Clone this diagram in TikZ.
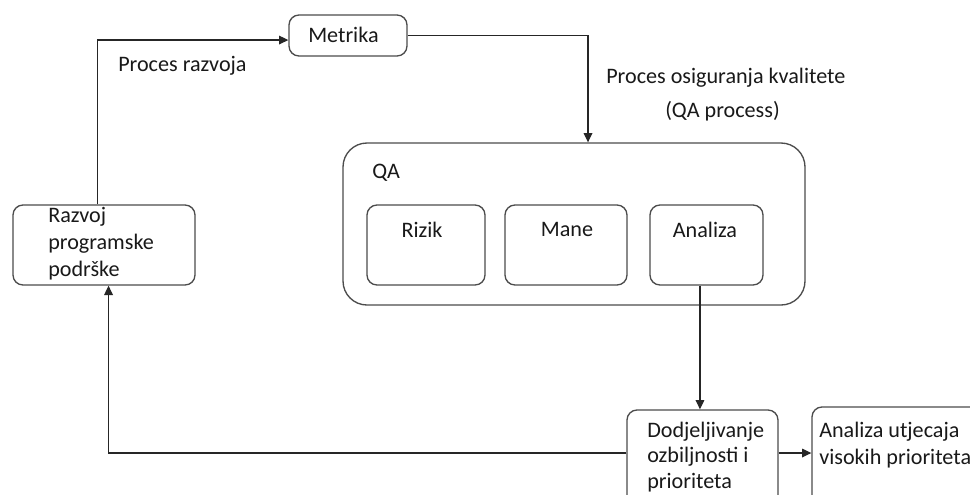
\documentclass[tikz,border=0pt]{standalone}
\usepackage{fontspec}
\setmainfont{Carlito}
\usetikzlibrary{fit,arrows.meta}
\begin{document}
\begin{tikzpicture}[x=0.75pt,y=-0.75pt,
  box/.style={draw=black!70, line width=1pt, rounded corners=7.5pt, inner sep=0pt},
  bigbox/.style={box, rounded corners=18pt},
  txt/.style={font=\fontsize{16.6}{19.5}\selectfont, inner sep=0pt, align=left, text=black!90},
  arr/.style={-{Triangle[length=7pt,width=6.5pt]}, line width=0.9pt, draw=black!85},
  ln/.style={line width=0.9pt, draw=black!85}]
\clip (0,0) rectangle (970,494);
\fill[white] (0,0) rectangle (970,494);

% boxes
\node[box, fit={(289,15) (407,56)}] (metrika) {};
\node[box, fit={(13,205) (195,285)}] (razvoj) {};
\node[bigbox, fit={(343,143) (805,305)}] (qa) {};
\node[box, fit={(367,205) (485,285)}] (rizik) {};
\node[box, fit={(505,205) (627,285)}] (mane) {};
\node[box, fit={(650,205) (763,285)}] (analiza) {};
\node[box, fit={(627,410) (778,510)}] (dodj) {};
\node[box, fit={(812,407) (990,510)}] (util) {};

% texts
\node[txt, anchor=base west] (tmetrika) at (308,42) {Metrika};
\node[txt, anchor=base west] (trazvoja) at (118,71) {Proces razvoja};
\node[txt, anchor=base west] (tosig) at (606,83) {Proces osiguranja kvalitete};
\node[txt, anchor=base west] (tqap) at (665,117) {(QA process)};
\node[txt, anchor=base west] (tqa) at (372,178) {QA};
\node[txt, anchor=base] (trizik) at (422,237) {Rizik};
\node[txt, anchor=base] (tmane) at (567,236) {Mane};
\node[txt, anchor=base] (tanaliza) at (705,237) {Analiza};
\node[txt, anchor=base west, font=\fontsize{16.6}{19.9}\selectfont] (trazvoj) at (48,276) {Razvoj\\programske\\podrške};
\node[txt, anchor=base west, font=\fontsize{16.6}{19.1}\selectfont] (tdodj) at (647,488) {Dodjeljivanje\\ozbiljnosti i\\prioriteta};
\node[txt, anchor=base west, font=\fontsize{16.6}{20.25}\selectfont] (tutil) at (819,464) {Analiza utjecaja\\visokih prioriteta};

% connectors
\draw[arr] ([xshift=-4.9pt]razvoj.north) |- ([yshift=-3.4pt]metrika.west);
\draw[arr] (metrika.east) -| ([xshift=10.5pt]qa.north);
\draw[arr] ([xshift=-4.9pt]analiza.south) -- ([xshift=-4.9pt]analiza.south |- dodj.north);
\draw[arr] (dodj.east |- 0,453) -- (util.west |- 0,453);
\draw[arr] (dodj.west |- 0,453) -| ([xshift=3.4pt]razvoj.south);
\end{tikzpicture}
\end{document}
